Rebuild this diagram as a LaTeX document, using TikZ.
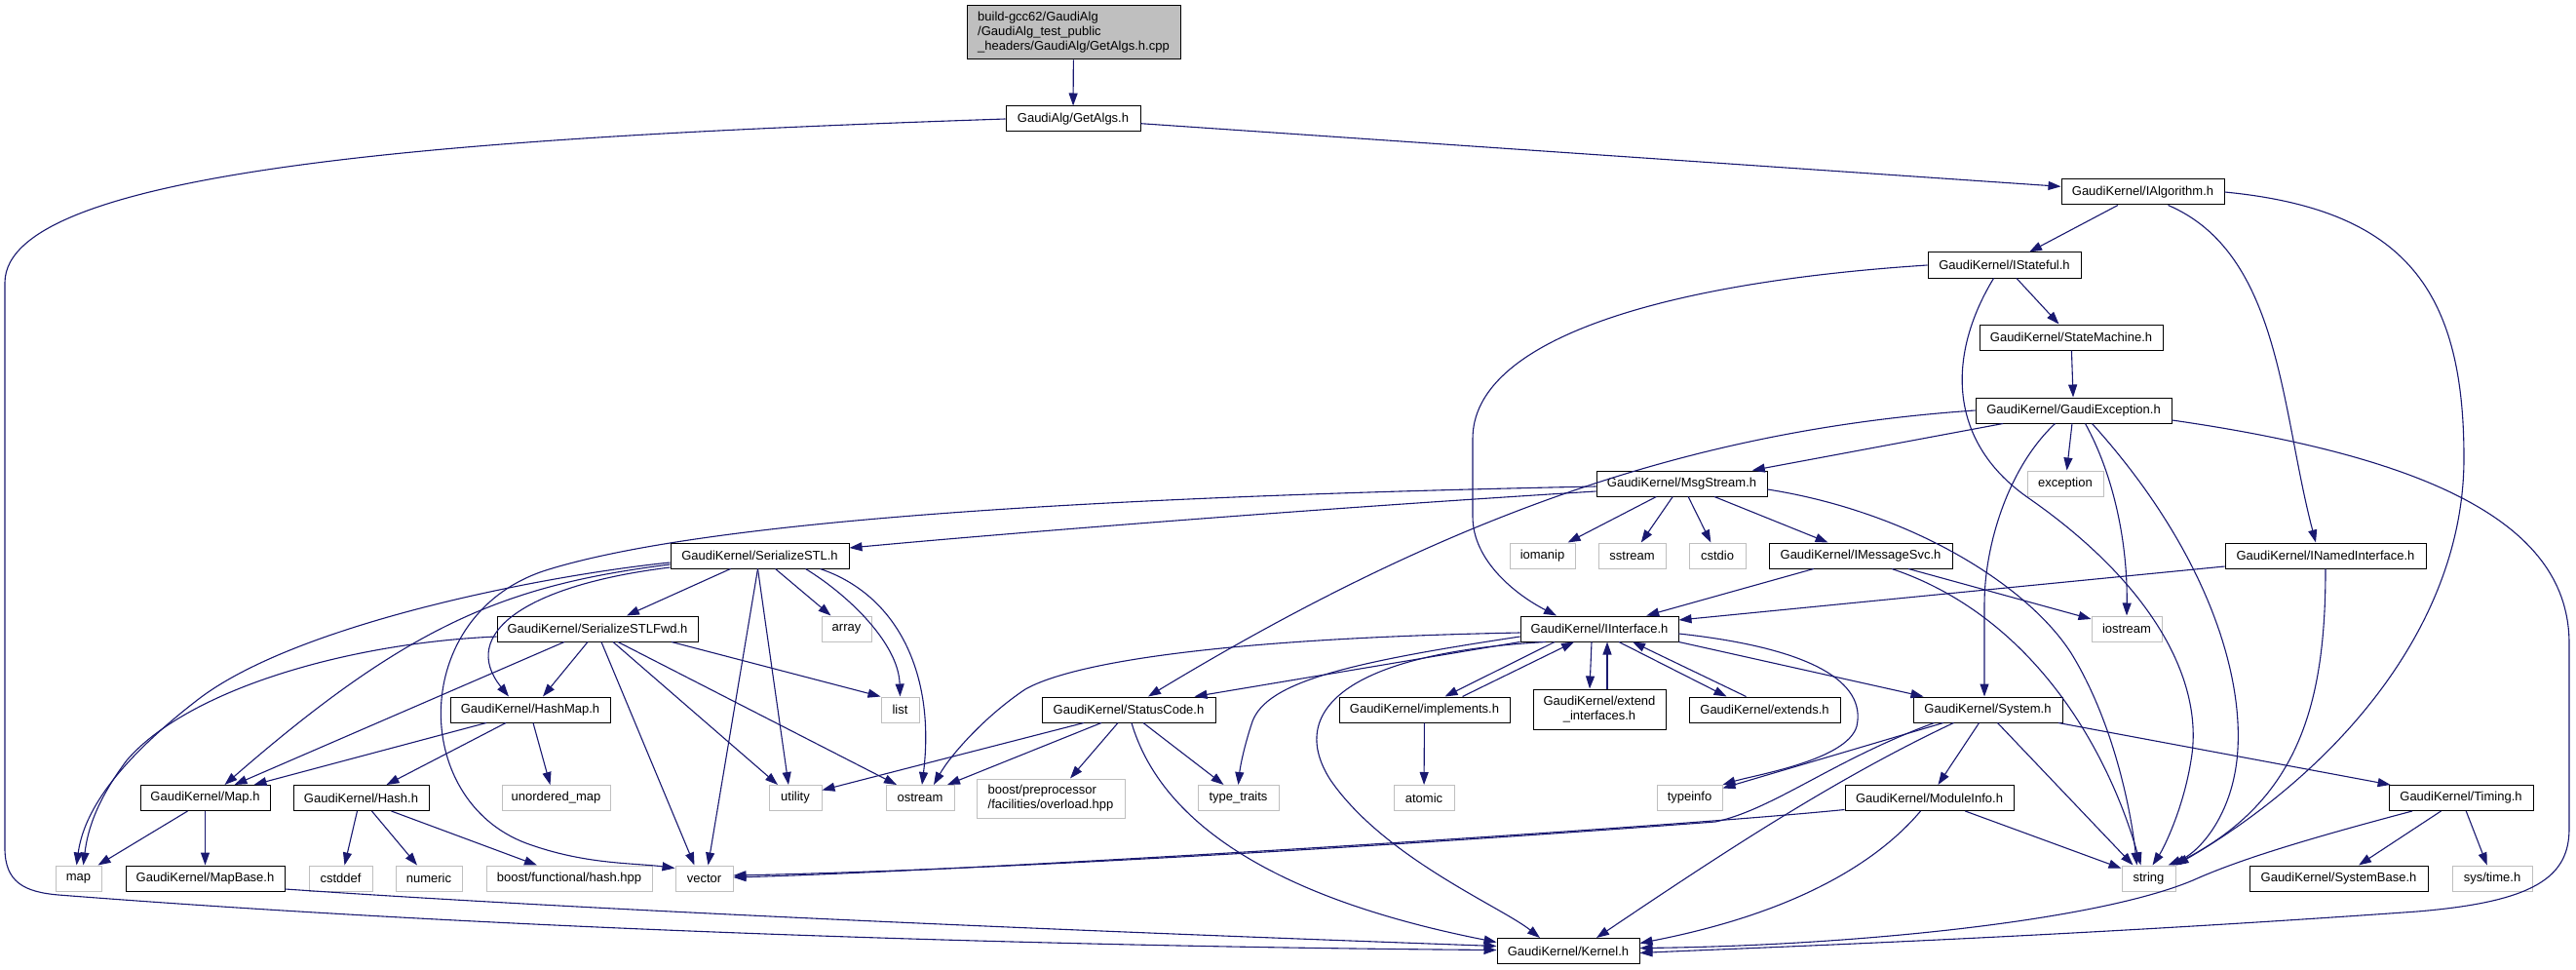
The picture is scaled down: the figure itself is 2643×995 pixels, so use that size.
\documentclass[tikz,border=0pt]{standalone}
\usepackage{fontspec}
\setmainfont{Liberation Sans}
\usepackage{xcolor}
\usetikzlibrary{arrows.meta}
\definecolor{edgeblue}{RGB}{25,25,112}
\definecolor{boxgray}{RGB}{191,191,191}
\tikzset{
  hdr/.style={draw=black, fill=white, line width=1pt, inner sep=2pt, minimum height=26pt, align=center, font=\fontsize{13}{15}\selectfont},
  syshdr/.style={hdr, draw=boxgray},
  dep/.style={draw=edgeblue, line width=1.1pt, -{Triangle[length=13pt,width=9pt]}}
}
\begin{document}
\begin{tikzpicture}[x=1pt,y=-1pt]
                 \useasboundingbox (0,0) rectangle (2643,995);
                 % Top of the include tree
                 \node[hdr, fill=boxgray, align=left, minimum width=219pt, minimum height=55pt] (root) at (1101.5,33.5) {build-gcc62/GaudiAlg\\/GaudiAlg\_test\_public\\\_headers/GaudiAlg/GetAlgs.h.cpp};
                 \node[hdr, minimum width=138pt] (getalgs) at (1101,122) {GaudiAlg/GetAlgs.h};
                 \node[hdr, minimum width=167pt] (ialgorithm) at (2198.5,197) {GaudiKernel/IAlgorithm.h};
                 \node[hdr, minimum width=157pt] (istateful) at (2056.5,272) {GaudiKernel/IStateful.h};
                 \node[hdr, minimum width=188pt] (statemachine) at (2125,346) {GaudiKernel/StateMachine.h};
                 \node[hdr, minimum width=201pt] (gaudiexception) at (2127.5,421) {GaudiKernel/GaudiException.h};
                 \node[syshdr, minimum width=78pt] (exception) at (2119,496) {exception};
                 \node[hdr, minimum width=175pt] (msgstream) at (1725.5,496) {GaudiKernel/MsgStream.h};

                 % Middle rows
                 \node[syshdr, minimum width=67pt] (iomanip) at (1582.5,570) {iomanip};
                 \node[syshdr, minimum width=69pt] (sstream) at (1674.5,570) {sstream};
                 \node[syshdr, minimum width=58pt] (cstdio) at (1762,570) {cstdio};
                 \node[hdr, minimum width=188pt] (imessagesvc) at (1909,570) {GaudiKernel/IMessageSvc.h};
                 \node[hdr, minimum width=206pt] (inamedinterface) at (2386,570) {GaudiKernel/INamedInterface.h};
                 \node[hdr, minimum width=183pt] (serializestl) at (779.5,570) {GaudiKernel/SerializeSTL.h};
                 \node[hdr, minimum width=206pt] (serializestlfwd) at (613,645) {GaudiKernel/SerializeSTLFwd.h};
                 \node[syshdr, minimum width=51pt] (array) at (868.5,645) {array};
                 \node[hdr, minimum width=162pt] (iinterface) at (1641,645) {GaudiKernel/IInterface.h};
                 \node[syshdr, minimum width=72pt] (iostream) at (2182,645) {iostream};
                 \node[hdr, minimum width=164pt] (hashmap) at (544,728) {GaudiKernel/HashMap.h};
                 \node[syshdr, minimum width=39pt] (list) at (923.5,728) {list};
                 \node[hdr, minimum width=178pt] (statuscode) at (1158,728) {GaudiKernel/StatusCode.h};
                 \node[hdr, minimum width=175pt] (implements) at (1461.5,728) {GaudiKernel/implements.h};
                 \node[hdr, minimum width=136pt, minimum height=41pt] (extendinterfaces) at (1641,727.5) {GaudiKernel/extend\\\_interfaces.h};
                 \node[hdr, minimum width=155pt] (extends) at (1810.5,728) {GaudiKernel/extends.h};
                 \node[hdr, minimum width=153pt] (system) at (2039.5,728) {GaudiKernel/System.h};

                 % Lower rows
                 \node[hdr, minimum width=133pt] (mapnode) at (210.5,818.5) {GaudiKernel/Map.h};
                 \node[hdr, minimum width=139pt] (hash) at (370.5,818.5) {GaudiKernel/Hash.h};
                 \node[syshdr, minimum width=111pt] (unorderedmap) at (570.5,818.5) {unordered\_map};
                 \node[syshdr, minimum width=54pt] (utility) at (816,818.5) {utility};
                 \node[syshdr, minimum width=70pt] (ostream) at (944,818.5) {ostream};
                 \node[syshdr, align=left, minimum width=152pt, minimum height=40pt] (boostpp) at (1078,819) {boost/preprocessor\\/facilities/overload.hpp};
                 \node[syshdr, minimum width=83pt] (typetraits) at (1270.5,818.5) {type\_traits};
                 \node[syshdr, minimum width=62pt] (atomic) at (1461,818.5) {atomic};
                 \node[syshdr, minimum width=67pt] (typeinfo) at (1733.5,818.5) {typeinfo};
                 \node[hdr, minimum width=173pt] (moduleinfo) at (1979.5,818.5) {GaudiKernel/ModuleInfo.h};
                 \node[hdr, minimum width=148pt] (timing) at (2525,818.5) {GaudiKernel/Timing.h};
                 \node[syshdr, minimum width=47pt] (stdmap) at (80.5,901) {map};
                 \node[hdr, minimum width=163pt] (mapbase) at (210.5,901) {GaudiKernel/MapBase.h};
                 \node[syshdr, minimum width=65pt] (cstddef) at (349.5,901) {cstddef};
                 \node[syshdr, minimum width=68pt] (numeric) at (440,901) {numeric};
                 \node[syshdr, minimum width=170pt] (boosthash) at (584,901) {boost/functional/hash.hpp};
                 \node[syshdr, minimum width=59pt] (vector) at (722.5,901) {vector};
                 \node[syshdr, minimum width=55pt] (string) at (2204.5,901) {string};
                 \node[hdr, minimum width=183pt] (systembase) at (2399.5,901) {GaudiKernel/SystemBase.h};
                 \node[syshdr, minimum width=82pt] (systime) at (2557,901) {sys/time.h};
                 \node[hdr, minimum width=146pt] (kernel) at (1609,975.5) {GaudiKernel/Kernel.h};

                 % GetAlgs.h and IAlgorithm.h
                 \draw[dep] (root) -- (getalgs);
                 \draw[dep] (getalgs.west) .. controls (500,140) and (5,170) .. (5,290) -- (5,870) .. controls (5,905) and (25,915) .. (60,918) .. controls (600,960) and (1200,972) .. ([yshift=1pt]kernel.west);
                 \draw[dep] (getalgs) -- (ialgorithm);
                 \draw[dep] (ialgorithm) -- (istateful);
                 \draw[dep] ([xshift=26pt]ialgorithm.south) .. controls (2340,260) and (2340,420) .. ([xshift=-10pt]inamedinterface.north);
                 \draw[dep] (ialgorithm.east) .. controls (2470,215) and (2528,300) .. (2528,470) .. controls (2528,640) and (2400,790) .. (string.north east);

                 % IStateful.h, StateMachine.h, GaudiException.h
                 \draw[dep] (istateful.west) .. controls (1700,290) and (1511,350) .. (1511,450) -- (1511,530) .. controls (1511,575) and (1555,610) .. ([xshift=-44pt]iinterface.north);
                 \draw[dep] (istateful) -- (statemachine);
                 \draw[dep] ([xshift=-11pt]istateful.south) .. controls (2000,360) and (1995,450) .. (2080,510) .. controls (2210,600) and (2262,700) .. (2248,780) .. controls (2240,830) and (2220,870) .. ([xshift=4pt]string.north);
                 \draw[dep] (statemachine) -- (gaudiexception);
                 \draw[dep] (gaudiexception.west) .. controls (1750,440) and (1500,520) .. ([xshift=20pt]statuscode.north);
                 \draw[dep] (gaudiexception) -- (msgstream);
                 \draw[dep] (gaudiexception) -- (exception);
                 \draw[dep] ([xshift=12pt]gaudiexception.south) .. controls (2170,490) and (2183,560) .. (iostream.north);
                 \draw[dep] ([xshift=-19pt]gaudiexception.south) .. controls (2060,480) and (2036,560) .. (2036,620) -- ([xshift=-3.5pt]system.north);
                 \draw[dep] ([xshift=19pt]gaudiexception.south) .. controls (2260,560) and (2305,690) .. (2295,780) .. controls (2288,840) and (2255,875) .. ([xshift=-8pt]string.north east);
                 \draw[dep] ([yshift=-10pt]gaudiexception.east) .. controls (2500,470) and (2636,540) .. (2636,660) -- (2636,850) .. controls (2636,900) and (2600,925) .. (2480,935) .. controls (2100,962) and (1800,972) .. ([yshift=-2pt]kernel.east);

                 % MsgStream.h and IMessageSvc.h
                 \draw[dep] ([yshift=-8pt]msgstream.west) .. controls (1300,525) and (1000,550) .. ([yshift=8pt]serializestl.east);
                 \draw[dep] ([yshift=-3pt]msgstream.west) .. controls (1100,510) and (720,535) .. (560,585) .. controls (420,630) and (420,820) .. (540,865) .. controls (600,887) and (650,885) .. ([yshift=-3pt]vector.north west);
                 \draw[dep] (msgstream) -- (iomanip);
                 \draw[dep] (msgstream) -- (sstream);
                 \draw[dep] (msgstream) -- (cstdio);
                 \draw[dep] (msgstream) -- (imessagesvc);
                 \draw[dep] ([yshift=-6pt]msgstream.east) .. controls (1960,525) and (2080,600) .. (2125,670) .. controls (2165,735) and (2185,820) .. ([xshift=-12pt]string.north);
                 \draw[dep] (imessagesvc) -- (iinterface);
                 \draw[dep] (imessagesvc) -- (iostream);
                 \draw[dep] ([xshift=32pt]imessagesvc.south) .. controls (2080,630) and (2160,760) .. ([xshift=-8pt]string.north);
                 \draw[dep] ([yshift=-11pt]inamedinterface.west) -- ([yshift=9pt]iinterface.east);
                 \draw[dep] (inamedinterface.south) .. controls (2386,720) and (2360,820) .. ([xshift=-3pt]string.north east);

                 % SerializeSTL.h and SerializeSTLFwd.h
                 \draw[dep] (serializestl) -- (serializestlfwd);
                 \draw[dep] (serializestl) -- (array);
                 \draw[dep] ([xshift=47pt]serializestl.south) .. controls (870,610) and (922,660) .. (list.north);
                 \draw[dep] ([xshift=62pt]serializestl.south) .. controls (920,610) and (960,690) .. ([xshift=2pt]ostream.north);
                 \draw[dep] ([xshift=-2pt]serializestl.south) -- ([xshift=-7pt]utility.north);
                 \draw[dep] ([xshift=-2pt]serializestl.south) -- ([xshift=4pt]vector.north);
                 \draw[dep] ([yshift=-7pt]serializestl.west) .. controls (560,590) and (300,640) .. (200,720) .. controls (110,790) and (85,840) .. ([xshift=-2pt]stdmap.north);
                 \draw[dep] ([yshift=-9pt]serializestl.west) .. controls (520,600) and (420,640) .. ([xshift=20pt]mapnode.north);
                 \draw[dep] ([yshift=-12pt]serializestl.west) .. controls (540,600) and (470,650) .. ([xshift=-22pt]hashmap.north);
                 \draw[dep] ([yshift=-8pt]serializestlfwd.west) .. controls (350,660) and (190,710) .. (130,780) .. controls (100,820) and (90,850) .. ([xshift=5pt]stdmap.north);
                 \draw[dep] ([xshift=-34pt]serializestlfwd.south) -- ([xshift=30pt]mapnode.north);
                 \draw[dep] ([xshift=-10pt]serializestlfwd.south) -- ([xshift=13pt]hashmap.north);
                 \draw[dep] ([xshift=4pt]serializestlfwd.south) -- ([xshift=-10pt]vector.north);
                 \draw[dep] ([xshift=16pt]serializestlfwd.south) -- ([xshift=-18pt]utility.north);
                 \draw[dep] ([xshift=21pt]serializestlfwd.south) -- ([xshift=-24pt]ostream.north);
                 \draw[dep] ([xshift=76pt]serializestlfwd.south) -- (list.north west);

                 % HashMap.h, Map.h, Hash.h, MapBase.h
                 \draw[dep] ([xshift=-45pt]hashmap.south) -- ([xshift=50pt]mapnode.north);
                 \draw[dep] ([xshift=-25pt]hashmap.south) -- ([xshift=26pt]hash.north);
                 \draw[dep] ([xshift=3pt]hashmap.south) -- ([xshift=-6pt]unorderedmap.north);
                 \draw[dep] ([xshift=-18pt]mapnode.south) -- ([xshift=20pt]stdmap.north);
                 \draw[dep] (mapnode) -- (mapbase);
                 \draw[dep] ([xshift=-4pt]hash.south) -- ([xshift=4pt]cstddef.north);
                 \draw[dep] ([xshift=11pt]hash.south) -- ([xshift=-12pt]numeric.north);
                 \draw[dep] ([xshift=31pt]hash.south) -- ([xshift=-33pt]boosthash.north);
                 \draw[dep] ([yshift=-11pt]mapbase.east) .. controls (700,940) and (1300,962) .. ([yshift=5pt]kernel.west);

                 % StatusCode.h
                 \draw[dep] ([xshift=-46pt]statuscode.south) -- ([yshift=8pt]utility.east);
                 \draw[dep] ([xshift=-28pt]statuscode.south) -- ([xshift=28pt]ostream.north);
                 \draw[dep] ([xshift=-11pt]statuscode.south) -- ([xshift=20pt]boostpp.north);
                 \draw[dep] ([xshift=15pt]statuscode.south) -- ([xshift=-15pt]typetraits.north);
                 \draw[dep] ([xshift=3pt]statuscode.south) .. controls (1190,840) and (1300,920) .. ([yshift=9pt]kernel.west);

                 % IInterface.h and its neighbours
                 \draw[dep] ([yshift=-4pt]iinterface.west) .. controls (1250,655) and (1100,680) .. (1052,707) .. controls (1010,735) and (975,775) .. ([xshift=14pt]ostream.north);
                 \draw[dep] (iinterface.south west) -- ([xshift=-22pt]statuscode.north east);
                 \draw[dep] ([yshift=-8pt]iinterface.west) .. controls (1380,680) and (1300,700) .. (1285,740) .. controls (1275,770) and (1272,790) .. (typetraits.north);
                 \draw[dep] ([xshift=-55pt]iinterface.south) .. controls (1380,670) and (1320,730) .. (1365,800) .. controls (1420,880) and (1540,930) .. ([xshift=-29pt]kernel.north);
                 \draw[dep] ([xshift=-46pt]iinterface.south) -- ([xshift=21pt]implements.north);
                 \draw[dep] ([xshift=39pt]implements.north) -- ([xshift=-26pt]iinterface.south);
                 \draw[dep] ([xshift=-8pt]iinterface.south) -- ([xshift=-10pt]extendinterfaces.north);
                 \draw[dep] ([xshift=8pt]extendinterfaces.north) -- ([xshift=8pt]iinterface.south);
                 \draw[dep] ([xshift=20pt]iinterface.south) -- ([xshift=-39pt]extends.north);
                 \draw[dep] ([xshift=-19pt]extends.north) -- ([xshift=34pt]iinterface.south);
                 \draw[dep] (iinterface.south east) -- ([xshift=11pt]system.north west);
                 \draw[dep] ([yshift=-5pt]iinterface.east) .. controls (1860,665) and (1915,700) .. (1905,745) .. controls (1895,780) and (1800,795) .. (typeinfo.north east);
                 \draw[dep] (implements) -- (atomic);

                 % System.h, ModuleInfo.h, Timing.h
                 \draw[dep] (system) -- (typeinfo);
                 \draw[dep] ([xshift=-55pt]system.south) .. controls (1880,780) and (1820,830) .. (1760,843) .. controls (1400,870) and (1000,893) .. ([yshift=3pt]vector.east);
                 \draw[dep] ([xshift=-35pt]system.south) .. controls (1880,800) and (1760,880) .. ([xshift=29pt]kernel.north);
                 \draw[dep] (system) -- (moduleinfo);
                 \draw[dep] ([xshift=10pt]system.south) -- ([xshift=-16pt]string.north);
                 \draw[dep] (system) -- (timing);
                 \draw[dep] ([yshift=-12pt]moduleinfo.west) .. controls (1700,850) and (1000,893) .. ([yshift=1pt]vector.east);
                 \draw[dep] (moduleinfo) -- (string);
                 \draw[dep] ([xshift=-9pt]moduleinfo.south) .. controls (1930,880) and (1850,935) .. ([yshift=8pt]kernel.east);
                 \draw[dep] ([xshift=-50pt]timing.south) .. controls (2350,865) and (2290,885) .. (2250,903) .. controls (2150,945) and (1900,970) .. ([yshift=3pt]kernel.east);
                 \draw[dep] (timing) -- (systembase);
                 \draw[dep] (timing) -- (systime);
                \end{tikzpicture}
\end{document}
